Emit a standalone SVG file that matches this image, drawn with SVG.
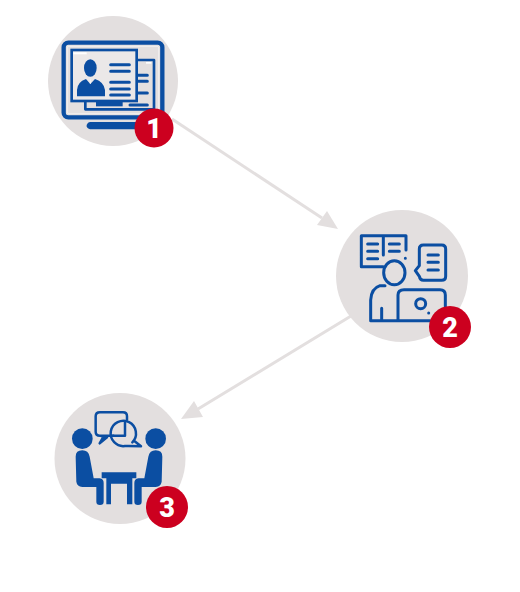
<svg xmlns="http://www.w3.org/2000/svg" width="520" height="592" viewBox="0 0 520 592">
<style>
.disc{fill:#e3dfdf}
.badge{fill:#cc001f}
.num{fill:#fff;font-family:Roboto,"Liberation Sans",sans-serif;font-weight:900;text-anchor:middle;font-size:27px}
.line{fill:none;stroke:#0b4ea2;stroke-linecap:round;stroke-linejoin:round}
.fill{fill:#0b4ea2}
.edge{fill:none;stroke:#e3dfdf;stroke-width:3}
.head{fill:#e3dfdf}
</style>
<rect width="520" height="592" fill="#fff"/>
<g id="connectors">
<path class="edge" d="M172 119L322 218"/>
<path class="head" d="M338 229L317 225L327 211Z"/>
<path class="edge" d="M351 316L198 409"/>
<path class="head" d="M181 419L194 401L203 417Z"/>
</g>
<g id="node-1">
<circle class="disc" cx="113" cy="81" r="65"/>
<g transform="translate(40 10) scale(.33333)">
<rect class="line" x="71" y="98" width="296" height="224" rx="14" stroke-width="13"/>
<rect x="82" y="109" width="274" height="202" rx="5" fill="none" stroke="#f1efef" stroke-width="3"/>
<path class="fill" d="M150 336H296V358H150Q138 354 140 345Q143 336 150 336Z"/>
<path class="line" stroke-width="8" d="M290 150H342V298H136V275"/>
<rect x="95" y="120" width="195" height="153" fill="#ebe8e8" stroke="#0b4ea2" stroke-width="8"/>
<rect x="100" y="127" width="40" height="6" fill="#fff"/>
<rect x="318" y="156" width="16" height="5" fill="#fff"/>
<ellipse class="fill" cx="151" cy="174" rx="19" ry="26"/>
<path class="fill" d="M111 259V240Q112 216 138 207L151 222L165 207Q192 216 195 240V259Z"/>
<path d="M151 208V222" stroke="#fff" stroke-width="2"/>
<g class="line" stroke-width="9"><path d="M212 164H268M212 184H268M212 217H268M212 237H268M212 255H268"/>
<path d="M295 196H322M295 214H322M295 249H322M270 285H322"/></g>
<path class="fill" d="M168 275H248V289H168Z"/>
</g>
</g>
<g id="node-2">
<circle class="disc" cx="402" cy="276" r="66"/>
<g transform="translate(330 205) scale(.33333)" class="line" stroke-width="9">
<path d="M160 185H94V92H160V150M160 92H228V135M226 160V160"/>
<path d="M113 117H143M113 139H143M113 161H143M178 117H208M178 139H208"/>
<ellipse cx="193" cy="203" rx="32" ry="36"/>
<path d="M165 242H150Q124 250 122 285V347H300M155 310V345"/>
<path d="M204 345V270Q204 254 222 254H330Q346 254 346 270V318"/>
<circle cx="272" cy="296" r="15"/>
<path d="M296 324V324"/>
<path d="M280 120H335Q347 120 347 132V214Q347 226 335 226H280Q270 226 268 214L256 197L268 182V132Q268 120 280 120Z"/>
<path d="M294 150H325M294 172H325M294 195H325"/>
</g>
</g>
<g id="node-3">
<circle class="disc" cx="120" cy="458.5" r="65.5"/>
<g transform="translate(45 385) scale(.33333)">
<g class="line" stroke-width="7.5">
<path d="M205 152H165Q152 152 152 140V94Q152 82 165 82H234Q246 82 246 94V104"/>
<path d="M170 154L186 157L164 175L176 154"/>
<path d="M262 172A38 38 0 1 0 240 183H250L288 184L268 168"/>
<path d="M204 152H240V108"/>
</g>
<circle class="fill" cx="112" cy="161" r="31"/>
<circle class="fill" cx="332" cy="161" r="31"/>
<path class="fill" d="M92 215Q92 196 112 196Q130 196 134 215L146 280H164Q176 282 176 294V350Q176 360 165 360Q154 360 154 350V306H112Q96 304 94 290Z"/>
<path class="fill" d="M352 215Q352 196 332 196Q314 196 310 215L298 280H280Q268 282 268 294V350Q268 360 279 360Q290 360 290 350V306H332Q348 304 350 290Z"/>
<path class="fill" d="M170 262H274V280H262V358H246V296H198V358H184V280H170Z"/>
</g>
</g>
<g id="badge-1"><circle class="badge" cx="154" cy="128" r="19.5"/><text class="num" x="154" y="137.5">1</text></g>
<g id="badge-2"><circle class="badge" cx="450" cy="327" r="21"/><text class="num" x="450" y="336.5">2</text></g>
<g id="badge-3"><circle class="badge" cx="167" cy="507" r="21"/><text class="num" x="167" y="516.5">3</text></g>
</svg>
